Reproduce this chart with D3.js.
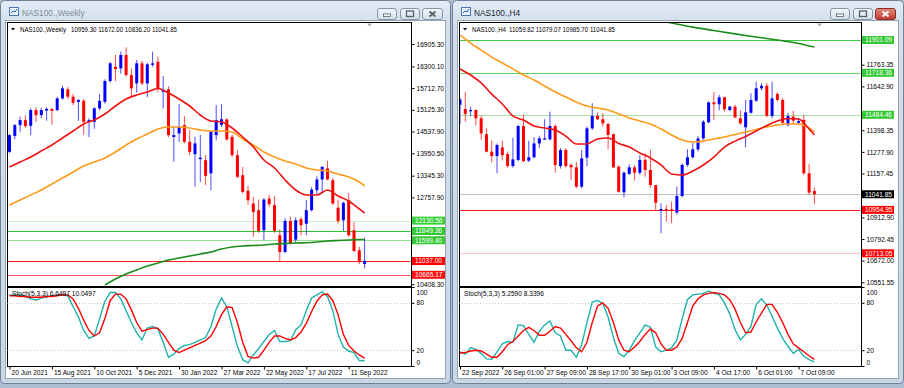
<!DOCTYPE html>
<html>
<head>
<meta charset="utf-8">
<script src="https://cdn.jsdelivr.net/npm/d3@7/dist/d3.min.js"></script>
<style>
  body { margin: 0; background: #aebfd4; }
  svg { display: block; }
  text { font-family: "Liberation Sans", Arial, sans-serif; }
</style>
</head>
<body>
<script>
// ---------- weekly chart (left window) ----------
var wkLabels = ["20 Jun 2021", "15 Aug 2021", "10 Oct 2021", "5 Dec 2021", "30 Jan 2022",
                "27 Mar 2022", "22 May 2022", "17 Jul 2022", "11 Sep 2022"];
var wkLabelIdx = [0, 8, 16, 24, 32, 40, 48, 56, 64];
var wkOpen = [13990,14420,14713,14848,14693,15119,14983,15105,15150,15119,15435,15680,15480,15340,15370,14800,14800,15165,15340,15904,
              16290,16247,16608,16066,15840,16383,15840,16340,16427,15615,15680,14390,14488,14713,14260,13927,13793,13765,13410,14442,
              14720,14866,14396,13900,13359,12935,12593,12412,11870,12728,12547,11735,11283,12122,11617,12168,12045,12412,12953,13243,
              13540,13224,12480,12140,12682,11870,11329,10959.3];
var wkHigh = [14470,14740,14937,14980,15170,15200,15180,15200,15170,15480,15780,15740,15560,15420,15420,14900,15200,15560,15950,16420,
              16608,16700,16816,16240,16472,16450,16400,16697,16560,16039,15760,14666,15280,14956,14577,14396,14450,13900,14560,15254,
              15280,14900,14450,14036,13583,13070,12772,12700,12740,12830,12790,11900,12200,12240,12220,12230,12682,13030,13330,13600,
              13746,13290,12700,12640,12870,12090,11420,11672];
var wkLow = [13960,14330,14530,14640,14442,14800,14900,14830,14720,15090,15400,15420,15250,14830,14450,14390,14612,15110,15290,15860,
             15904,16100,16020,15500,15590,15790,15470,16290,15600,15165,14380,13720,14260,14220,13900,13043,13178,13088,12953,14300,
             14660,14300,13850,13278,12860,12560,11689,11800,11599,12500,11800,11037,11250,11480,11530,11730,11735,12380,12850,12910,
             13220,12550,12050,11850,11700,11280,10950,10836.2];
var wkClose = [14442,14713,14848,14685,15119,14983,15119,15150,15100,15435,15706,15480,15316,15390,14800,14848,15165,15370,15904,16383,
               16230,16608,16066,15706,16383,15840,16356,16383,15706,15660,14442,14442,14666,14260,13990,14217,13830,13340,14535,14848,
               14870,14325,13900,13313,12907,12682,12365,11852,12700,12574,11852,11283,12122,11510,12141,12006,12412,12970,13243,13583,
               13243,12593,12122,12610,11735,11310,11004,11041.85];

// moving averages, read every second bar
var maIdx = [0,2,4,6,8,10,12,14,16,18,20,22,24,26,28,30,32,34,36,38,40,42,44,46,48,50,52,54,56,58,60,62,64,66,67];
var wkMaFast = [13580,13715,13850,14012,14175,14364,14553,14742,14850,15013,15229,15418,15526,15608,15702,15580,15418,15229,14986,14823,
                14796,14634,14391,14120,13769,13553,13228,12958,12823,12823,12958,12796,12660,12444,12336];
var wkMaMid = [12552,12688,12823,12958,13120,13282,13445,13607,13715,13823,13985,14175,14337,14472,14607,14661,14661,14634,14580,14553,
               14553,14526,14337,14175,13985,13850,13742,13661,13553,13499,13472,13391,13309,13174,13066];
var wkSlowIdx = [18,20,22,24,26,28,30,32,34,36,38,40,42,44,46,48,50,52,54,56,58,60,62,64,66,67];
var wkMaSlow = [10389,10552,10687,10795,10903,10984,11065,11119,11174,11228,11282,11363,11417,11444,11457,11471,11498,11511,11525,11533,
                11552,11579,11592,11606,11620,11620];

var wkStochK = [90,90,90,88,85,83.5,86,88,89,90,90,89,75,62,45,35,38,60,82,93,93,85,70,55,42,33,48,50,47,30,11,15,22,26,27,30,33,36,50,72,
                86,75,50,25,8,4,14,22,31,40,45,31,31,32,46,52,70,86,90,94,88,70,40,24,19,17,7,6.65];
var wkStochD = [89,89,88,88,87,87,87,88,88,89,90,90,85,73,58,45,38,42,60,83,91,91,85,71,55,44,46,48,48,40,30,20,17,20,23,26,29,32,38,50,
                65,75,74,55,30,12,10,11,20,30,38,38,35,33,36,43,54,69,82,90,91,83,65,40,26,19,14,10.05];

var wkPriceTicks = [16905.30,16300.10,15712.70,15125.30,14537.90,13950.50,13345.30,12757.90,12170.50,11583.10,10995.70,10408.30];
var wkLevels = [12130.56, 11849.36, 11599.40, 11037.00, 10665.17];
var wkBid = 11041.85;

// ---------- H4 chart (right window) ----------
var h4Labels = ["22 Sep 2022", "26 Sep 01:00", "27 Sep 09:00", "28 Sep 17:00", "30 Sep 01:00",
                "3 Oct 09:00", "4 Oct 17:00", "6 Oct 01:00", "7 Oct 09:00"];
var h4LabelIdx = [0, 8, 16, 24, 32, 40, 48, 56, 64];
var h4Open = [11540,11517,11505,11511,11465,11377,11279,11255,11303,11266,11199,11233,11422,11229,11248,11325,11349,11348,11422,11199,
              11288,11205,11192,11084,11246,11409,11478,11460,11433,11376,11195,11053,11155,11192,11162,11233,11177,11093,10950,10960,
              10958,10940,11032,11205,11248,11292,11353,11443,11554,11543,11582,11511,11530,11465,11415,11496,11563,11632,11646,11478,
              11600,11567,11427,11474,11440,11456,11159,11059.82];
var h4High = [11580,11613,11530,11515,11480,11410,11340,11325,11340,11280,11357,11430,11484,11340,11360,11368,11460,11502,11432,11299,
              11299,11215,11222,11288,11420,11549,11497,11494,11440,11381,11205,11168,11209,11205,11260,11270,11290,11093,10991,10982,
              11001,11084,11214,11292,11328,11366,11455,11558,11613,11595,11586,11535,11540,11510,11567,11604,11669,11660,11663,11668,
              11610,11578,11495,11506,11467,11483,11210,11079.07];
var h4Low = [11433,11446,11475,11425,11345,11275,11218,11159,11230,11190,11190,11225,11220,11222,11242,11300,11345,11342,11162,11185,
             11190,11121,11076,11076,11199,11400,11455,11420,11292,11188,11050,11025,11150,11118,11150,11140,11077,10954,10825,10889,
             10880,10930,11025,11195,11240,11280,11345,11437,11456,11510,11502,11505,11465,11428,11303,11490,11557,11620,11470,11465,
             11560,11433,11420,11435,11430,11150,11040,10985.7];
var h4Close = [11570,11489,11511,11465,11381,11279,11255,11316,11260,11199,11236,11422,11227,11248,11325,11353,11353,11422,11205,11288,
               11199,11192,11084,11242,11409,11478,11460,11437,11372,11192,11056,11162,11192,11162,11233,11177,11093,10995,10960,10952,
               10950,11032,11205,11248,11292,11353,11446,11554,11543,11582,11515,11530,11470,11437,11498,11567,11632,11646,11479,11576,
               11567,11440,11478,11452,11450,11159,11051,11041.85];

var h4MaFast = [11740,11706,11662,11600,11545,11478,11455,11422,11411,11400,11366,11322,11322,11350,11355,11325,11305,11272,11244,11205,
                11155,11149,11171,11205,11249,11305,11338,11364,11394,11425,11450,11464,11461,11405,11372];
var h4MaMid = [11929,11884,11845,11806,11773,11740,11706,11678,11645,11611,11584,11556,11533,11522,11511,11489,11467,11450,11433,11405,
               11372,11344,11333,11338,11350,11361,11375,11389,11403,11417,11428,11433,11433,11411,11389];
var h4SlowIdx = [38,40,44,48,52,56,60,64,67];
var h4MaSlow = [12007,11996,11973,11954,11935,11918,11901,11882,11862];

var h4StochK = [18,15,23,21,16,9,8.5,18,28,31,30,52,51,40,30,44,52,57,42,38,20,20,11,27,55,81,83,79,62,36,16,12,20,32,42,52,49,24,18,20,
                23,33,60,84,90,91,92,95,92,90,80,66,46,33,40,50,78,85,77,63,48,35,25,16,21,12,8,5.26];
var h4StochD = [16.5,17,19,20,19,15,11,11,18,27,31,38,45,49,45,39,39,44,50,48,40,32,23,18,30,55,76,80,73,55,33,20,18,24,31,40,47,42,28,20,
                20,24,35,55,76,85,90,92,93,92,90,84,72,55,42,43,56,67,78,78,68,55,40,28,23,18,13,8.34];

var h4PriceTicks = [11883.80,11763.35,11642.90,11518.80,11398.35,11277.90,11157.45,11037.00,10912.90,10792.45,10672.00,10551.55];
var h4Levels = [11901.09, 11718.36, 11484.46, 10954.95, 10713.05];
var h4Bid = 11041.85;

var stochLevels = [100, 80, 20, 0];

// ---------------------------------------------------------------
var svg = d3.select("body").append("svg").attr("width", 904).attr("height", 388);
var defs = svg.append("defs");

var tg = defs.append("linearGradient").attr("id", "frameGrad").attr("x1", 0).attr("y1", 0).attr("x2", 0).attr("y2", 1);
tg.append("stop").attr("offset", "0").attr("stop-color", "#e4ecf6");
tg.append("stop").attr("offset", "0.06").attr("stop-color", "#d3dfec");
tg.append("stop").attr("offset", "1").attr("stop-color", "#c9d7e7");

var bg = defs.append("linearGradient").attr("id", "btnGrad").attr("x1", 0).attr("y1", 0).attr("x2", 0).attr("y2", 1);
bg.append("stop").attr("offset", "0").attr("stop-color", "#f4f7fb");
bg.append("stop").attr("offset", "1").attr("stop-color", "#d2dce8");

var cg = defs.append("linearGradient").attr("id", "closeGrad").attr("x1", 0).attr("y1", 0).attr("x2", 0).attr("y2", 1);
cg.append("stop").attr("offset", "0").attr("stop-color", "#e08d80");
cg.append("stop").attr("offset", "1").attr("stop-color", "#c2392b");

function drawWindow(x0, w, title, active) {
    var g = svg.append("g");
    g.append("rect")
        .attr("x", x0 + 0.5).attr("y", 0.5)
        .attr("width", w - 1).attr("height", 383)
        .attr("rx", 4)
        .attr("fill", "url(#frameGrad)")
        .attr("stroke", "#6f8196");
    // client area
    g.append("rect")
        .attr("x", x0 + 5.5).attr("y", 20.5)
        .attr("width", w - 11).attr("height", 358)
        .attr("fill", "#ffffff")
        .attr("stroke", "#97a3b2");

    // little chart icon
    g.append("rect").attr("x", x0 + 9.5).attr("y", 7.5).attr("width", 9).attr("height", 8)
        .attr("fill", "#eaf2fb").attr("stroke", "#4a7ab8");
    g.append("path").attr("d", "M" + (x0 + 11) + ",13 l2,-2 l2,1 l2,-3")
        .attr("fill", "none").attr("stroke", "#2c5fa8");

    g.append("text")
        .attr("x", x0 + 22).attr("y", 15.5)
        .attr("font-size", 8.3)
        .attr("fill", active ? "#1b2836" : "#7f8c9b")
        .text(title);

    // title buttons
    var right = x0 + w - 8;
    var btns = [
        { x: right - 66, kind: "min" },
        { x: right - 43, kind: "max" },
        { x: right - 21, kind: "close" }
    ];
    btns.forEach(function(b) {
        var red = active && b.kind === "close";
        g.append("rect")
            .attr("x", b.x + 0.5).attr("y", 8.5)
            .attr("width", b.kind === "close" ? 20 : 19).attr("height", 11)
            .attr("rx", 2.5)
            .attr("fill", red ? "url(#closeGrad)" : "url(#btnGrad)")
            .attr("stroke", red ? "#8a2c22" : "#8696a9");
        var cx = b.x + (b.kind === "close" ? 10.5 : 10);
        if (b.kind === "min") {
            g.append("rect").attr("x", cx - 3.5).attr("y", 14).attr("width", 7).attr("height", 2.5)
                .attr("fill", "#ffffff").attr("stroke", "#56616e").attr("stroke-width", 0.8);
        } else if (b.kind === "max") {
            g.append("rect").attr("x", cx - 3.5).attr("y", 11).attr("width", 7).attr("height", 5.5)
                .attr("fill", "none").attr("stroke", "#56616e").attr("stroke-width", 1.3);
        } else {
            g.append("path")
                .attr("d", "M" + (cx - 3) + ",11.5 L" + (cx + 3) + ",16.5 M" + (cx + 3) + ",11.5 L" + (cx - 3) + ",16.5")
                .attr("stroke", red ? "#ffffff" : "#56616e").attr("stroke-width", 1.8);
        }
    });
}

drawWindow(0, 451, "NAS100.,Weekly", false);
drawWindow(452, 452, "NAS100.,H4", true);

function drawChart(c) {
    var g = svg.append("g");
    var n = c.open.length;

    var x = d3.scaleLinear().domain([0, n - 1]).range(c.xRange);
    var y = d3.scaleLinear().domain(c.priceDomain).range(c.priceRange);
    var ys = d3.scaleLinear().domain([0, 100]).range([c.bottom, c.stochTop]);

    defs.append("clipPath").attr("id", "clip-" + c.name).append("rect")
        .attr("x", c.left + 0.5).attr("y", c.top + 0.5)
        .attr("width", c.right - c.left - 1).attr("height", c.mainBottom - c.top - 1);
    defs.append("clipPath").attr("id", "sclip-" + c.name).append("rect")
        .attr("x", c.left + 0.5).attr("y", c.stochTop + 0.5)
        .attr("width", c.right - c.left - 1).attr("height", c.bottom - c.stochTop - 1);

    var plot = g.append("g").attr("clip-path", "url(#clip-" + c.name + ")");

    // bid line and horizontal levels
    plot.append("line")
        .attr("x1", c.left).attr("x2", c.right)
        .attr("y1", Math.round(y(c.bid)) + 0.5).attr("y2", Math.round(y(c.bid)) + 0.5)
        .attr("stroke", "#c0c0c0");
    c.levels.forEach(function(v, i) {
        var yy = Math.round(y(v)) + 0.5;
        plot.append("line")
            .attr("x1", c.left).attr("x2", c.right)
            .attr("y1", yy).attr("y2", yy)
            .attr("stroke", c.levelColors[i]).attr("stroke-width", 1.2);
    });

    // candles
    var idx = d3.range(n);
    plot.selectAll(".wick").data(idx).enter().append("line")
        .attr("x1", function(i) { return x(i); })
        .attr("x2", function(i) { return x(i); })
        .attr("y1", function(i) { return y(c.high[i]); })
        .attr("y2", function(i) { return y(c.low[i]); })
        .attr("stroke", function(i) { return c.close[i] >= c.open[i] ? "#0000ff" : "#ff0000"; })
        .attr("stroke-opacity", 0.7);
    plot.selectAll(".body").data(idx).enter().append("rect")
        .attr("x", function(i) { return x(i) - 1.5; })
        .attr("width", 3)
        .attr("y", function(i) { return y(Math.max(c.open[i], c.close[i])); })
        .attr("height", function(i) { return Math.max(1.2, Math.abs(y(c.open[i]) - y(c.close[i]))); })
        .attr("fill", function(i) { return c.close[i] >= c.open[i] ? "#0000ff" : "#ff0000"; });

    // moving averages
    var maLine = d3.line()
        .x(function(d) { return x(d[0]); })
        .y(function(d) { return y(d[1]); })
        .curve(d3.curveMonotoneX);
    c.mas.forEach(function(m) {
        plot.append("path")
            .datum(d3.zip(m.idx, m.vals))
            .attr("d", maLine)
            .attr("fill", "none")
            .attr("stroke", m.color)
            .attr("stroke-width", 1.6);
    });

    // frames
    g.append("rect")
        .attr("x", c.left + 0.5).attr("y", c.top + 0.5)
        .attr("width", c.right - c.left).attr("height", c.mainBottom - c.top)
        .attr("fill", "none").attr("stroke", "#000");
    g.append("rect")
        .attr("x", c.left + 0.5).attr("y", c.stochTop + 0.5)
        .attr("width", c.right - c.left).attr("height", c.bottom - c.stochTop)
        .attr("fill", "none").attr("stroke", "#000");

    // header
    g.append("path")
        .attr("d", "M" + (c.left + 4) + "," + (c.top + 6) + " l4,0 l-2,2.5 z")
        .attr("fill", "#000");
    g.append("text").attr("x", c.left + 13).attr("y", c.top + 9.5)
        .attr("font-size", 6.7).attr("fill", "#000")
        .attr("textLength", c.titleW).attr("lengthAdjust", "spacingAndGlyphs")
        .text(c.title);
    g.append("text").attr("x", c.left + c.headerNumX).attr("y", c.top + 9.5)
        .attr("font-size", 6.7).attr("fill", "#000")
        .attr("textLength", 106).attr("lengthAdjust", "spacingAndGlyphs")
        .text(c.header);
    g.append("path")
        .attr("d", "M" + (c.right - 44) + "," + (c.top + 1.5) + " l5,0 l-2.5,3 z")
        .attr("fill", "#a9a9a9");

    // price axis (labels covered by a level box are left out)
    var boxes = c.levels.map(function(v, i) { return { v: v, fill: c.boxColors[i] }; });
    boxes.push({ v: c.bid, fill: c.bidBox });
    boxes = boxes.filter(function(b) { return b.fill; });
    var shownTicks = c.priceTicks.filter(function(t) {
        return boxes.every(function(b) { return Math.abs(y(t) - y(b.v)) > 7; });
    });
    var pAxis = g.append("g")
        .attr("transform", "translate(" + (c.right + 0.5) + ",0)")
        .call(d3.axisRight(y).tickValues(shownTicks).tickFormat(d3.format(".2f")).tickSize(3).tickPadding(2));
    pAxis.select(".domain").remove();
    pAxis.attr("font-size", 6.6).attr("font-family", "Liberation Sans, Arial, sans-serif");

    // level boxes on the axis
    boxes.forEach(function(b) {
        var yy = y(b.v);
        g.append("rect")
            .attr("x", c.right + 1).attr("y", yy - 4)
            .attr("width", c.boxW).attr("height", 8)
            .attr("fill", b.fill);
        g.append("text")
            .attr("x", c.right + 4).attr("y", yy + 2.4)
            .attr("font-size", 6.6).attr("fill", "#fff")
            .text(d3.format(".2f")(b.v));
    });

    // stochastic
    var sp = g.append("g").attr("clip-path", "url(#sclip-" + c.name + ")");
    [80, 20].forEach(function(v) {
        sp.append("line")
            .attr("x1", c.left).attr("x2", c.right)
            .attr("y1", Math.round(ys(v)) + 0.5).attr("y2", Math.round(ys(v)) + 0.5)
            .attr("stroke", "#c8c8c8").attr("stroke-dasharray", "1,2");
    });
    var sLine = d3.line()
        .x(function(d, i) { return x(i); })
        .y(function(d) { return ys(d); });
    sp.append("path").datum(c.stochK).attr("d", sLine)
        .attr("fill", "none").attr("stroke", "#20b2aa").attr("stroke-width", 1.4);
    sp.append("path").datum(c.stochD).attr("d", sLine)
        .attr("fill", "none").attr("stroke", "#ff0000").attr("stroke-width", 1.4);
    g.append("text").attr("x", c.left + 5).attr("y", c.stochTop + 8.5)
        .attr("font-size", 6.6).attr("fill", "#000").text(c.stochText);

    var sAxis = g.append("g")
        .attr("transform", "translate(" + (c.right + 0.5) + ",0)")
        .call(d3.axisRight(ys).tickValues(stochLevels).tickFormat(d3.format("d")).tickSize(3).tickPadding(2));
    sAxis.select(".domain").remove();
    sAxis.attr("font-size", 6.6).attr("font-family", "Liberation Sans, Arial, sans-serif");
    sAxis.selectAll("text").attr("y", function(d) { return d === 100 ? 5 : (d === 0 ? -4 : 0); });

    // time axis
    var tAxis = g.append("g")
        .attr("transform", "translate(0," + (c.bottom + 0.5) + ")")
        .call(d3.axisBottom(x).tickValues(c.labelIdx)
            .tickFormat(function(d, i) { return c.labels[i]; })
            .tickSize(3).tickPadding(1));
    tAxis.select(".domain").remove();
    tAxis.attr("font-size", 6.6).attr("font-family", "Liberation Sans, Arial, sans-serif");
    tAxis.selectAll("text").attr("text-anchor", "start").attr("x", 1.5);
}

drawChart({
    name: "wk",
    left: 7, right: 411, top: 22, mainBottom: 286, stochTop: 287, bottom: 366,
    xRange: [9.5, 364.6],
    priceDomain: [10408.3, 16905.3], priceRange: [284.3, 44],
    open: wkOpen, high: wkHigh, low: wkLow, close: wkClose,
    mas: [
        { idx: wkSlowIdx, vals: wkMaSlow, color: "#1a8c1a" },
        { idx: maIdx, vals: wkMaMid, color: "#ff9a1a" },
        { idx: maIdx, vals: wkMaFast, color: "#ee1111" }
    ],
    levels: wkLevels,
    levelColors: ["#cdeecd", "#2ec02e", "#96de96", "#ff1a1a", "#ff5a5a"],
    boxColors: ["#3ccf3c", "#32c832", "#32c832", "#ff0000", "#ff1010"],
    bid: wkBid, bidBox: null,
    boxW: 33,
    priceTicks: wkPriceTicks,
    title: "NAS100.,Weekly", titleW: 46, headerNumX: 64,
    header: "10959.30 11672.00 10836.20 11041.85",
    stochK: wkStochK, stochD: wkStochD,
    stochText: "Stoch(5,3,3) 6.6497 10.0497",
    labels: wkLabels, labelIdx: wkLabelIdx
});

drawChart({
    name: "h4",
    left: 459, right: 861, top: 22, mainBottom: 286, stochTop: 287, bottom: 366,
    xRange: [460, 814.4],
    priceDomain: [10713.05, 11901.09], priceRange: [253.3, 40],
    open: h4Open, high: h4High, low: h4Low, close: h4Close,
    mas: [
        { idx: h4SlowIdx, vals: h4MaSlow, color: "#1a8c1a" },
        { idx: maIdx, vals: h4MaMid, color: "#ff9a1a" },
        { idx: maIdx, vals: h4MaFast, color: "#ee1111" }
    ],
    levels: h4Levels,
    levelColors: ["#3ccc3c", "#5fd35f", "#a2e6a2", "#ff1a1a", "#ffc4c4"],
    boxColors: ["#32c832", "#32c832", "#32c832", "#ff0000", "#ff0000"],
    bid: h4Bid, bidBox: "#000000",
    boxW: 32,
    priceTicks: h4PriceTicks,
    title: "NAS100.,H4", titleW: 34, headerNumX: 50,
    header: "11059.82 11079.07 10985.70 11041.85",
    stochK: h4StochK, stochD: h4StochD,
    stochText: "Stoch(5,3,3) 5.2590 8.3396",
    labels: h4Labels, labelIdx: h4LabelIdx
});
</script>
</body>
</html>
